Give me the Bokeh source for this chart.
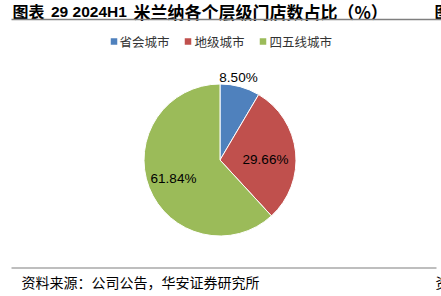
import math
from bokeh.plotting import figure
from bokeh.models import Range1d, ColumnDataSource
from bokeh.core.properties import value
from bokeh.embed import file_html
from bokeh.resources import INLINE

# ---- data ----
categories = ["省会城市", "地级城市", "四五线城市"]
shares = [8.50, 29.66, 61.84]
labels = ["8.50%", "29.66%", "61.84%"]
colors = ["#4F81BD", "#C0504D", "#9BBB59"]
title_parts = ["图表", "29 2024H1", "米兰纳各个层级门店数占比（%）"]
source_text = "资料来源：公司公告，华安证券研究所"

W, H = 441, 296
p = figure(width=W, height=H, output_backend="svg", toolbar_location=None,
           x_range=Range1d(0, W), y_range=Range1d(0, H), min_border=0)
p.axis.visible = False
p.grid.visible = False
p.outline_line_color = None
p.background_fill_color = "white"
p.border_fill_color = "white"

def Y(py):
    return H - py

CJK = "Noto Sans CJK SC"
LAT = "Liberation Sans"

# title (mixed fonts)
ty = Y(10.5)
p.text(x=[12], y=[ty], text=[title_parts[0]], text_font=value(CJK),
       text_font_size="16px", text_font_style="bold", text_baseline="middle",
       text_align="left", text_color="#000000")
p.text(x=[50.5], y=[ty], text=[title_parts[1]], text_font=value(LAT),
       text_font_size="15.5px", text_font_style="bold", text_baseline="middle",
       text_align="left", text_color="#000000")
p.text(x=[133], y=[ty], text=[title_parts[2]], text_font=value(CJK),
       text_font_size="17px", text_font_style="bold", text_baseline="middle",
       text_align="left", text_color="#000000")
p.text(x=[434], y=[ty], text=["图"], text_font=value(CJK),
       text_font_size="16px", text_font_style="bold", text_baseline="middle",
       text_align="left", text_color="#000000")
p.line(x=[11, W], y=[Y(19), Y(19)], line_color="#7f7f7f", line_width=1.5)

# legend
leg_sq_x = [113.5, 187.5, 262.5]
leg_tx_x = [119, 194, 269]
for cat, col, sx, tx in zip(categories, colors, leg_sq_x, leg_tx_x):
    p.rect(x=[sx], y=[Y(41)], width=6.5, height=6.5, width_units="screen",
           height_units="screen", fill_color=col, line_color=None)
    p.text(x=[tx], y=[Y(41)], text=[cat], text_font=value(CJK),
           text_font_size="12.5px", text_baseline="middle", text_align="left",
           text_color="#333333")

# pie
cx, cy, r = 219.5, 159.5, 76
cum = [0.0]
for s in shares:
    cum.append(cum[-1] + s)
tot = cum[-1]
starts = [math.pi / 2 - 2 * math.pi * cum[i] / tot for i in range(len(shares))]
ends = [math.pi / 2 - 2 * math.pi * cum[i + 1] / tot for i in range(len(shares))]
src = ColumnDataSource(dict(x=[cx] * 3, y=[Y(cy)] * 3, start=starts, end=ends, color=colors))
p.wedge(x="x", y="y", radius=r, radius_units="screen", start_angle="start",
        end_angle="end", direction="clock", fill_color="color",
        line_color="white", line_width=1, source=src)

# data labels
lab_x = [238, 265, 173]
lab_y = [77, 158.5, 178]
p.text(x=lab_x, y=[Y(v) for v in lab_y], text=labels,
       text_font=value(LAT), text_font_size="13.5px",
       text_baseline="middle", text_align="center", text_color="#000000")

# footer
p.line(x=[11, 436], y=[Y(267.5), Y(267.5)], line_color="#7f7f7f", line_width=1.2)
p.text(x=[21], y=[Y(281)], text=[source_text], text_font=value(CJK),
       text_font_size="14px", text_baseline="middle", text_align="left",
       text_color="#000000")
p.text(x=[435], y=[Y(281)], text=["资"], text_font=value(CJK),
       text_font_size="14px", text_baseline="middle", text_align="left",
       text_color="#000000")

open("out.html", "w").write(file_html(p, INLINE))
